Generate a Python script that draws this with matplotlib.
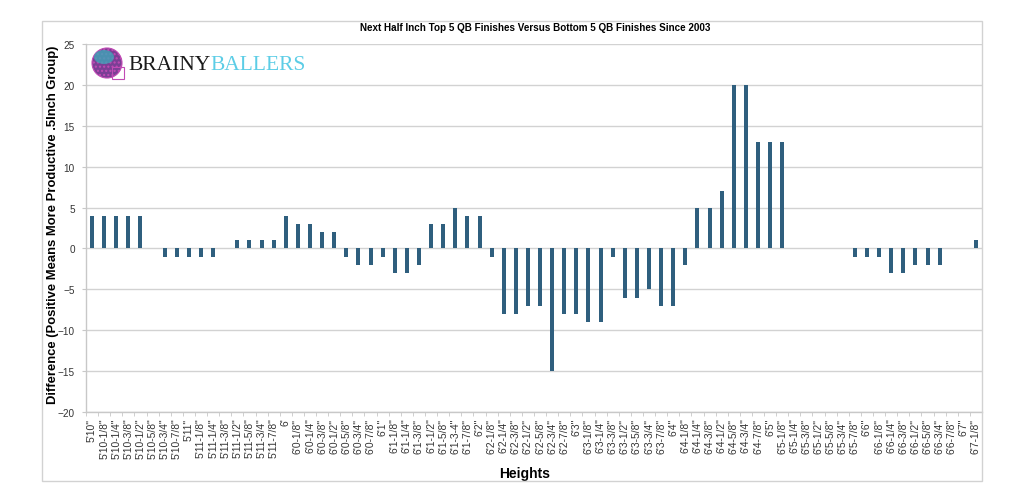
#! /usr/bin/python
# -*- coding: utf-8 -*-

import numpy as np
import matplotlib
matplotlib.use('Agg')
import matplotlib.pyplot as plt
from matplotlib.patches import Rectangle, Ellipse

heights = ['5\'10"', '5\'10-1/8"', '5\'10-1/4"', '5\'10-3/8"', '5\'10-1/2"', '5\'10-5/8"', '5\'10-3/4"', '5\'10-7/8"',
           '5\'11"', '5\'11-1/8"', '5\'11-1/4"', '5\'11-3/8"', '5\'11-1/2"', '5\'11-5/8"', '5\'11-3/4"', '5\'11-7/8"',
           "6'", '6\'0-1/8"', '6\'0-1/4"', '6\'0-3/8"', '6\'0-1/2"', '6\'0-5/8"', '6\'0-3/4"', '6\'0-7/8"',
           '6\'1"', '6\'1-1/8"', '6\'1-1/4"', '6\'1-3/8"', '6\'1-1/2"', '6\'1-5/8"', '6\'1-3-4"', '6\'1-7/8"',
           '6\'2"', '6\'2-1/8"', '6\'2-1/4"', '6\'2-3/8"', '6\'2-1/2"', '6\'2-5/8"', '6\'2-3/4"', '6\'2-7/8"',
           '6\'3"', '6\'3-1/8"', '6\'3-1/4"', '6\'3-3/8"', '6\'3-1/2"', '6\'3-5/8"', '6\'3-3/4"', '6\'3-7/8"',
           '6\'4"', '6\'4-1/8"', '6\'4-1/4"', '6\'4-3/8"', '6\'4-1/2"', '6\'4-5/8"', '6\'4-3/4"', '6\'4-7/8"',
           '6\'5"', '6\'5-1/8"', '6\'5-1/4"', '6\'5-3/8"', '6\'5-1/2"', '6\'5-5/8"', '6\'5-3/4"', '6\'5-7/8"',
           '6\'6"', '6\'6-1/8"', '6\'6-1/4"', '6\'6-3/8"', '6\'6-1/2"', '6\'6-5/8"', '6\'6-3/4"', '6\'6-7/8"',
           '6\'7"', '6\'7-1/8"']

difference = [4, 4, 4, 4, 4, 0, -1, -1,
              -1, -1, -1, 0, 1, 1, 1, 1,
              4, 3, 3, 2, 2, -1, -2, -2,
              -1, -3, -3, -2, 3, 3, 5, 4,
              4, -1, -8, -8, -7, -7, -15, -8,
              -8, -9, -9, -1, -6, -6, -5, -7,
              -7, -2, 5, 5, 7, 20, 20, 13,
              13, 13, 0, 0, 0, 0, 0, -1,
              -1, -1, -3, -3, -2, -2, -2, 0,
              0, 1]

y_ticks = [-20, -15, -10, -5, 0, 5, 10, 15, 20, 25]

plt.rcParams['font.family'] = ['Liberation Sans', 'DejaVu Sans']

fig = plt.figure(figsize=(10.24, 5.02), dpi=100)
ax = fig.add_axes([86 / 1024, 1 - 413 / 502, 896 / 1024, 368 / 502])

# outer frame around the whole chart
fig.patches.append(Rectangle((42 / 1024, 1 - 482 / 502), 940 / 1024, 460 / 502,
                             transform=fig.transFigure, fill=False,
                             edgecolor='#d2d2d2', linewidth=1.0))

x = np.arange(len(heights))
ax.bar(x, difference, width=0.33, color='#2f5f7e', linewidth=0, zorder=3)

ax.set_xlim(-0.5, len(heights) - 0.5)
ax.set_ylim(-20, 25)
ax.set_yticks(y_ticks)
ax.yaxis.grid(True, color='#d2d2d2', linewidth=1.0, zorder=0)
ax.set_axisbelow(True)

ax.set_xticks(x)
ax.set_xticklabels(heights, rotation=90, fontsize=7.4, color='#333333')
ax.set_xticks(np.arange(-0.5, len(heights), 1.0), minor=True)
ax.tick_params(axis='x', which='major', length=0, pad=4)
ax.tick_params(axis='x', which='minor', length=3, color='#c8c8c8', width=0.6)
ax.tick_params(axis='y', length=3, color='#c8c8c8', labelsize=7.2, labelcolor='#333333', pad=5)

for side in ['top', 'right']:
    ax.spines[side].set_visible(False)
for side in ['left', 'bottom']:
    ax.spines[side].set_color('#c8c8c8')
    ax.spines[side].set_linewidth(1.0)

ax.set_ylabel('Difference (Positive Means More Productive .5Inch Group)',
              fontsize=9.4, fontweight='bold')
ax.yaxis.set_label_coords(-0.03, 0.511)
ax.set_xlabel('Heights', fontsize=10, fontweight='bold')
ax.xaxis.set_label_coords(0.49, -0.147)
fig.text(0.523, 1 - 28 / 502, 'Next Half Inch Top 5 QB Finishes Versus Bottom 5 QB Finishes Since 2003',
         ha='center', va='center', fontsize=7.1, fontweight='bold')

# logo: rough helmet plus the brand name
helmet = Ellipse((107 / 1024, 1 - 64 / 502), 30 / 1024, 30 / 502, transform=fig.transFigure,
                 facecolor='#7b3f95', edgecolor='#c24bb5', linewidth=0.8, hatch='....', zorder=5)
fig.patches.append(helmet)
fig.patches.append(Ellipse((104 / 1024, 1 - 58 / 502), 20 / 1024, 14 / 502, transform=fig.transFigure,
                           facecolor='#3ea5b8', edgecolor='none', alpha=0.8, zorder=6))
fig.patches.append(Rectangle((112 / 1024, 1 - 80 / 502), 12 / 1024, 12 / 502, transform=fig.transFigure,
                             fill=False, edgecolor='#c24bb5', linewidth=0.8, zorder=6))
t1 = fig.text(128 / 1024, 1 - 66 / 502, 'BRAINY', ha='left', va='center',
              fontsize=15.5, family='Liberation Serif', color='#1a1a1a')
ax.annotate('BALLERS', xy=(1, 0), xycoords=t1, ha='left', va='bottom',
            fontsize=15.5, family='Liberation Serif', color='#5ccde6', annotation_clip=False)

fig.savefig('out.png', dpi=100)
